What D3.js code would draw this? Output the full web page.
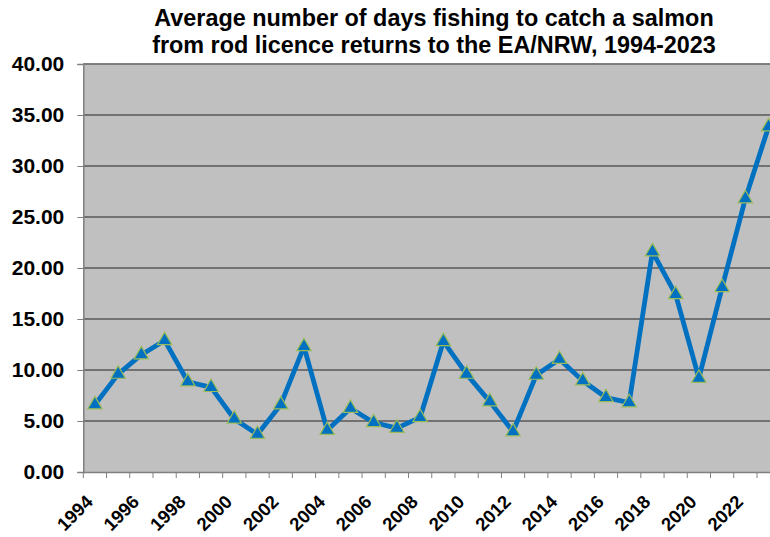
<!DOCTYPE html>
<html><head><meta charset="utf-8">
<script src="https://cdn.jsdelivr.net/npm/d3@7"></script>
<style>body{margin:0;background:#fff;}svg{display:block;font-family:"Liberation Sans",Arial,sans-serif;}</style>
</head><body>
<svg id="c" width="770" height="537"></svg>
<script>
const years = d3.range(1994, 2024).map(String);
const values = [6.6,9.6,11.5,12.9,8.85,8.3,5.2,3.7,6.6,12.3,4.1,6.25,4.85,4.3,5.35,12.8,9.6,6.9,3.95,9.5,11.05,8.95,7.3,6.8,21.6,17.4,9.2,18.1,26.8,33.85];
const yTicks = [0,5,10,15,20,25,30,35,40];
const titleLines = ["Average number of days fishing to catch a salmon","from rod licence returns to the EA/NRW, 1994-2023"];

const svg = d3.select("#c");
const pLeft = 83.3, bw = 23.23, pTop = 64, pBottom = 472;
const x = d3.scaleBand().domain(years).range([pLeft, pLeft + bw*years.length]).padding(0);
const y = d3.scaleLinear().domain([0,40]).range([pBottom, pTop]);

svg.append("rect").attr("x", pLeft).attr("y", pTop).attr("width", bw*years.length).attr("height", pBottom-pTop).attr("fill", "#c0c0c0");

// gridlines
svg.append("g").selectAll("line").data(yTicks.filter(d=>d>0)).join("line")
  .attr("x1", pLeft).attr("x2", pLeft + bw*years.length)
  .attr("y1", d=>y(d)).attr("y2", d=>y(d))
  .attr("stroke", "#595959").attr("stroke-width", 1.3);

// y axis
const ya = svg.append("g").attr("transform", `translate(${pLeft},0)`)
  .call(d3.axisLeft(y).tickValues(yTicks).tickFormat(d3.format(".2f")).tickSize(6).tickPadding(13));
ya.select(".domain").attr("stroke", "#808080").attr("stroke-width", 1.5);
ya.selectAll(".tick line").attr("stroke", "#808080");
ya.selectAll("text").attr("font-size", 21).attr("font-weight", "bold").attr("fill", "#000").attr("font-family", '"Liberation Sans",Arial,sans-serif');

// x axis
const xa = svg.append("g").attr("transform", `translate(0,${pBottom})`)
  .call(d3.axisBottom(x).tickSize(0).tickFormat(""));
xa.select(".domain").attr("stroke", "#808080").attr("stroke-width", 1.5);
svg.append("g").selectAll("line").data(years).join("line")
  .attr("x1", d=>x(d)+bw).attr("x2", d=>x(d)+bw)
  .attr("y1", pBottom).attr("y2", pBottom+6).attr("stroke", "#808080");
svg.append("line").attr("x1", pLeft).attr("x2", pLeft).attr("y1", pBottom).attr("y2", pBottom+6).attr("stroke", "#808080");

svg.append("g").selectAll("text").data(years.filter((d,i)=>i%2===0)).join("text")
  .attr("transform", d=>`translate(${x(d)+bw/2-1},${pBottom+31}) rotate(-45)`)
  .attr("text-anchor", "end")
  .attr("font-size", 18.5).attr("font-weight", "bold").text(d=>d);

// top border
svg.append("line").attr("x1", pLeft).attr("x2", pLeft + bw*years.length).attr("y1", pTop).attr("y2", pTop).attr("stroke", "#808080").attr("stroke-width", 1.5);

// line
const line = d3.line().x((d,i)=>x(years[i])+bw/2).y(d=>y(d));
svg.append("path").datum(values).attr("d", line).attr("fill", "none")
  .attr("stroke", "#0070c0").attr("stroke-width", 4.8).attr("stroke-linejoin", "round");

// markers
const tri = d3.symbol().type(d3.symbolTriangle).size(90);
svg.append("g").selectAll("path").data(values).join("path")
  .attr("d", tri).attr("transform", (d,i)=>`translate(${x(years[i])+bw/2},${y(d)})`)
  .attr("fill", "#0070c0").attr("stroke", "#9bbb59").attr("stroke-width", 1.2);

// title
svg.append("g").selectAll("text").data(titleLines).join("text")
  .attr("x", 434).attr("y", (d,i)=>26 + i*27).attr("text-anchor", "middle")
  .attr("font-size", 23.4).attr("font-weight", "bold").text(d=>d);
</script>
</body></html>
